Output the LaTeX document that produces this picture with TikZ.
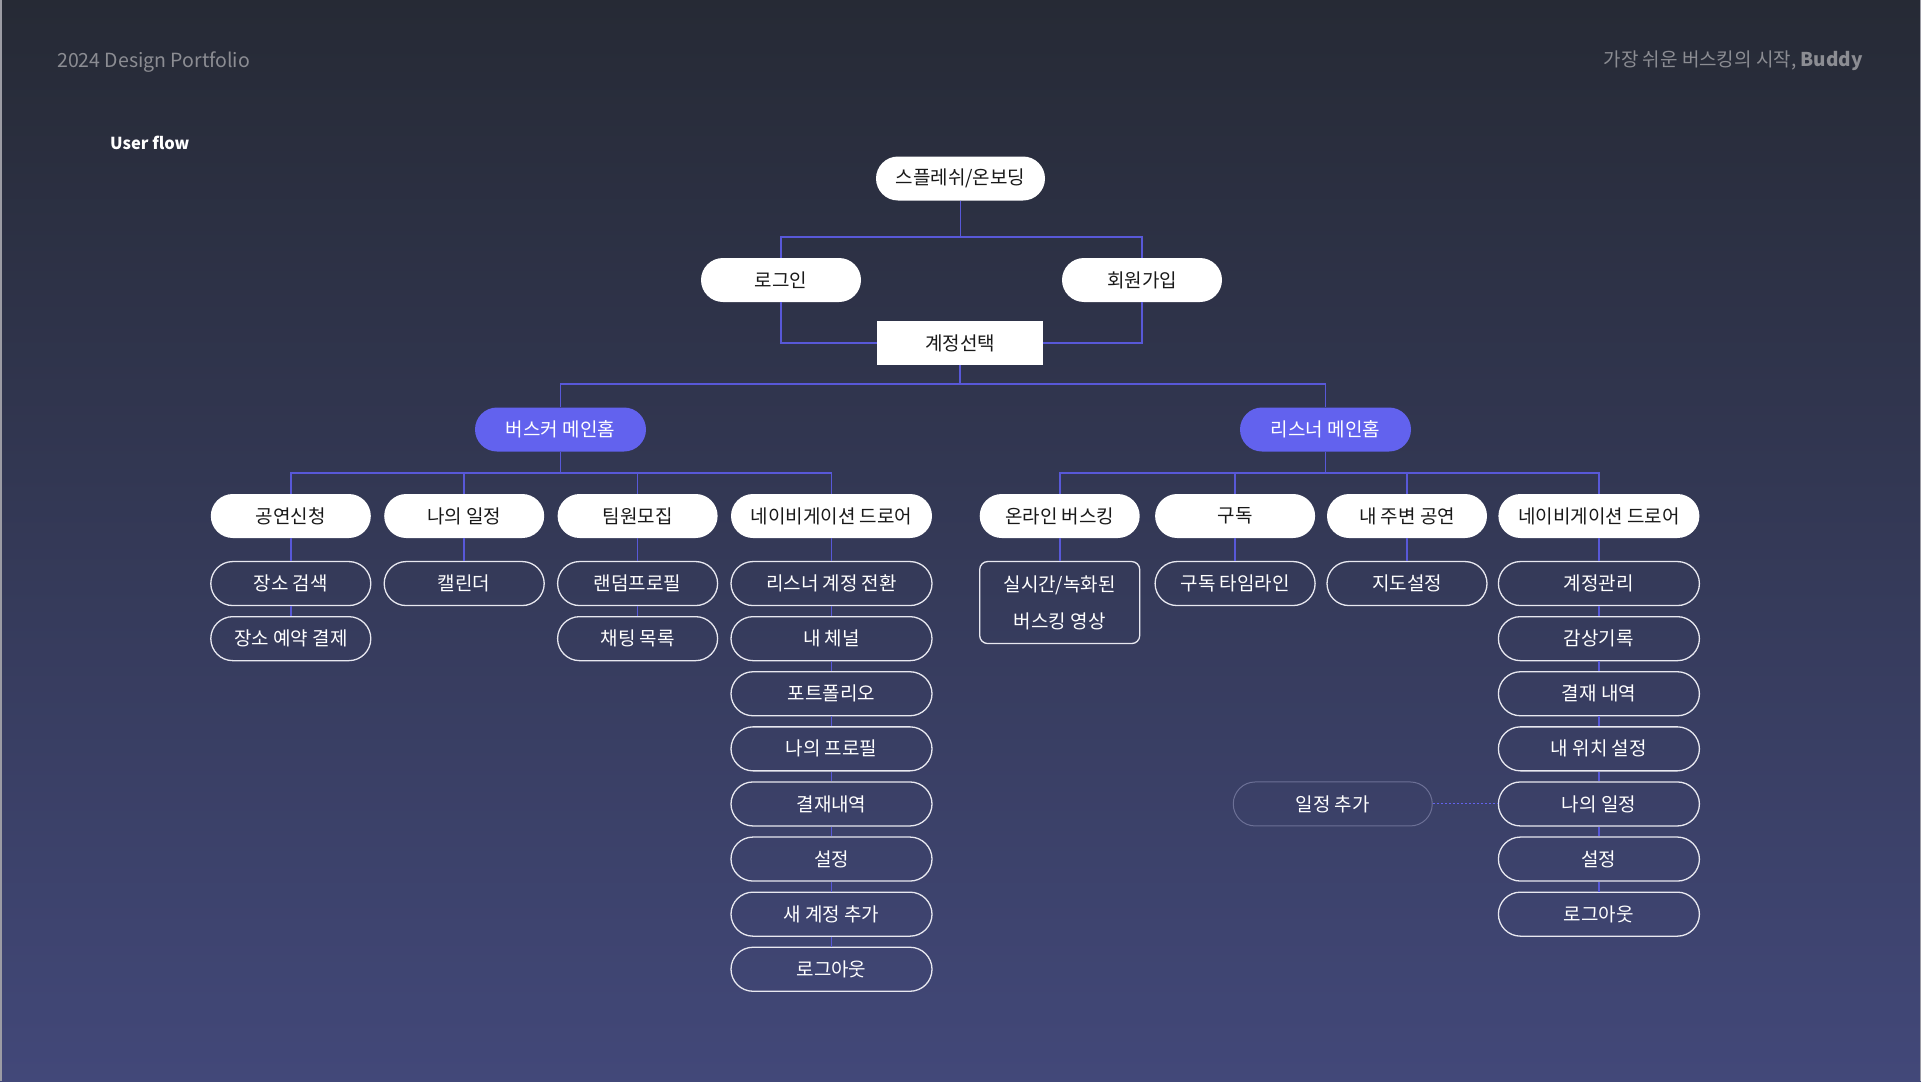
\documentclass[tikz,border=0pt]{standalone}
\usepackage{fontspec}
\setmainfont{Noto Sans CJK KR}
\usetikzlibrary{positioning}

\definecolor{bgtop}{HTML}{262A35}
\definecolor{bgbottom}{HTML}{424879}
\definecolor{linkblue}{HTML}{5858D8}
\definecolor{homefill}{HTML}{6262EE}
\definecolor{headgray}{HTML}{8C8D93}
\definecolor{edgegray}{HTML}{9C9CA4}
\definecolor{itemline}{HTML}{E8E8F0}
\definecolor{dimline}{HTML}{6C7096}

\tikzset{
  box/.style={minimum height=44pt, inner sep=0pt, align=center, font=\fontsize{19}{23}\selectfont},
  pill/.style={box, rounded corners=22pt, fill=white, text=black!90, minimum width=160pt},
  home/.style={box, rounded corners=22pt, fill=homefill, text=white, minimum width=171pt},
  item/.style={box, rounded corners=22pt, draw=itemline, line width=1.3pt, text=white, minimum width=160pt},
  wide/.style={minimum width=201pt},
  link/.style={draw=linkblue, line width=1.6pt},
  linkdot/.style={draw=homefill, line width=1pt, dash pattern=on 2pt off 2pt},
}

\begin{document}
\begin{tikzpicture}[x=1pt, y=-1pt]
  \useasboundingbox (0,0) rectangle (1921,1081);
  \shade[top color=bgtop, bottom color=bgbottom] (0,0) rectangle (1921,1081);
  \fill[edgegray] (0,0) rectangle (1.5,1081);
  \fill[edgegray] (1919.5,0) rectangle (1921,1081);

  % Header
  \node[anchor=base west, inner sep=0pt, text=headgray, font=\fontsize{19.5}{24}\selectfont] (year) at (57,67.5) {2024 Design Portfolio};
  \node[anchor=base east, inner sep=0pt, text=headgray, font=\fontsize{19}{23}\selectfont] (slogan) at (1863,66.5) {가장 쉬운 버스킹의 시작, \textbf{Buddy}};
  \node[anchor=base west, inner sep=0pt, text=white, font=\bfseries\fontsize{16.5}{20}\selectfont] (title) at (110,149.5) {User flow};

  % Entry
  \node[pill, minimum width=169pt] (splash) at (960.5,178.5) {스플레쉬/온보딩};
  \node[pill] (login) at (781,280) {로그인};
  \node[pill] (signup) at (1142,280) {회원가입};
  \node[box, fill=white, text=black!90, minimum width=166pt] (acct) at (960,343) {계정선택};

  % Main homes
  \node[home] (busker) at (560.5,429.5) {버스커 메인홈};
  \node[home] (listener) at (1325.5,429.5) {리스너 메인홈};

  % Busker menus
  \node[pill] (gig) at (290.8,516) {공연신청};
  \node[pill, right=13pt of gig] (mysched) {나의 일정};
  \node[pill, right=13pt of mysched] (recruit) {팀원모집};
  \node[pill, wide, right=13pt of recruit] (bnav) {네이비게이션 드로어};

  \node[item, below=22.7pt of gig] (place) {장소 검색};
  \node[item, below=9.8pt of place] (pay) {장소 예약 결제};
  \node[item, below=22.7pt of mysched] (cal) {캘린더};
  \node[item, below=22.7pt of recruit] (rand) {랜덤프로필};
  \node[item, below=9.8pt of rand] (chat) {채팅 목록};
  \node[item, wide, below=22.7pt of bnav] (bn1) {리스너 계정 전환};
  \node[item, wide, below=9.8pt of bn1] (bn2) {내 체널};
  \node[item, wide, below=9.8pt of bn2] (bn3) {포트폴리오};
  \node[item, wide, below=9.8pt of bn3] (bn4) {나의 프로필};
  \node[item, wide, below=9.8pt of bn4] (bn5) {결재내역};
  \node[item, wide, below=9.8pt of bn5] (bn6) {설정};
  \node[item, wide, below=9.8pt of bn6] (bn7) {새 계정 추가};
  \node[item, wide, below=9.8pt of bn7] (bn8) {로그아웃};

  % Listener menus
  \node[pill] (online) at (1059.7,516) {온라인 버스킹};
  \node[pill, right=15pt of online] (sub) {구독};
  \node[pill, right=11.5pt of sub] (near) {내 주변 공연};
  \node[pill, wide, right=11pt of near] (lnav) {네이비게이션 드로어};

  \node[item, rounded corners=8pt, minimum height=82pt, font=\fontsize{19}{37}\selectfont, below=22.7pt of online] (video) {실시간/녹화된\\버스킹 영상};
  \node[item, below=22.7pt of sub] (timeline) {구독 타임라인};
  \node[item, below=22.7pt of near] (map) {지도설정};
  \node[item, wide, below=22.7pt of lnav] (ln1) {계정관리};
  \node[item, wide, below=9.8pt of ln1] (ln2) {감상기록};
  \node[item, wide, below=9.8pt of ln2] (ln3) {결재 내역};
  \node[item, wide, below=9.8pt of ln3] (ln4) {내 위치 설정};
  \node[item, wide, below=9.8pt of ln4] (ln5) {나의 일정};
  \node[item, wide, below=9.8pt of ln5] (ln6) {설정};
  \node[item, wide, below=9.8pt of ln6] (ln7) {로그아웃};
  \node[item, draw=dimline, line width=1pt, minimum width=199pt, left=65pt of ln5] (addsched) {일정 추가};

  % Connectors
  \draw[link] (splash.south) -- ++(0,36) -| (login.north);
  \draw[link] (splash.south) -- ++(0,36) -| (signup.north);
  \draw[link] (login.south) |- (acct.west);
  \draw[link] (signup.south) |- (acct.east);
  \draw[link] (acct.south) -- ++(0,19) -| (busker.north);
  \draw[link] (acct.south) -- ++(0,19) -| (listener.north);
  \foreach \c in {gig, mysched, recruit, bnav}
    \draw[link] (busker.south) -- ++(0,21) -| (\c.north);
  \foreach \c in {online, sub, near, lnav}
    \draw[link] (listener.south) -- ++(0,21) -| (\c.north);
  \foreach \a/\b in {gig/place, place/pay, mysched/cal, recruit/rand, rand/chat,
                     bnav/bn1, bn1/bn2, bn2/bn3, bn3/bn4, bn4/bn5, bn5/bn6, bn6/bn7, bn7/bn8,
                     online/video, sub/timeline, near/map,
                     lnav/ln1, ln1/ln2, ln2/ln3, ln3/ln4, ln4/ln5, ln5/ln6, ln6/ln7}
    \draw[link] (\a) -- (\b);
  \draw[linkdot] (addsched) -- (ln5);

\end{tikzpicture}
\end{document}
